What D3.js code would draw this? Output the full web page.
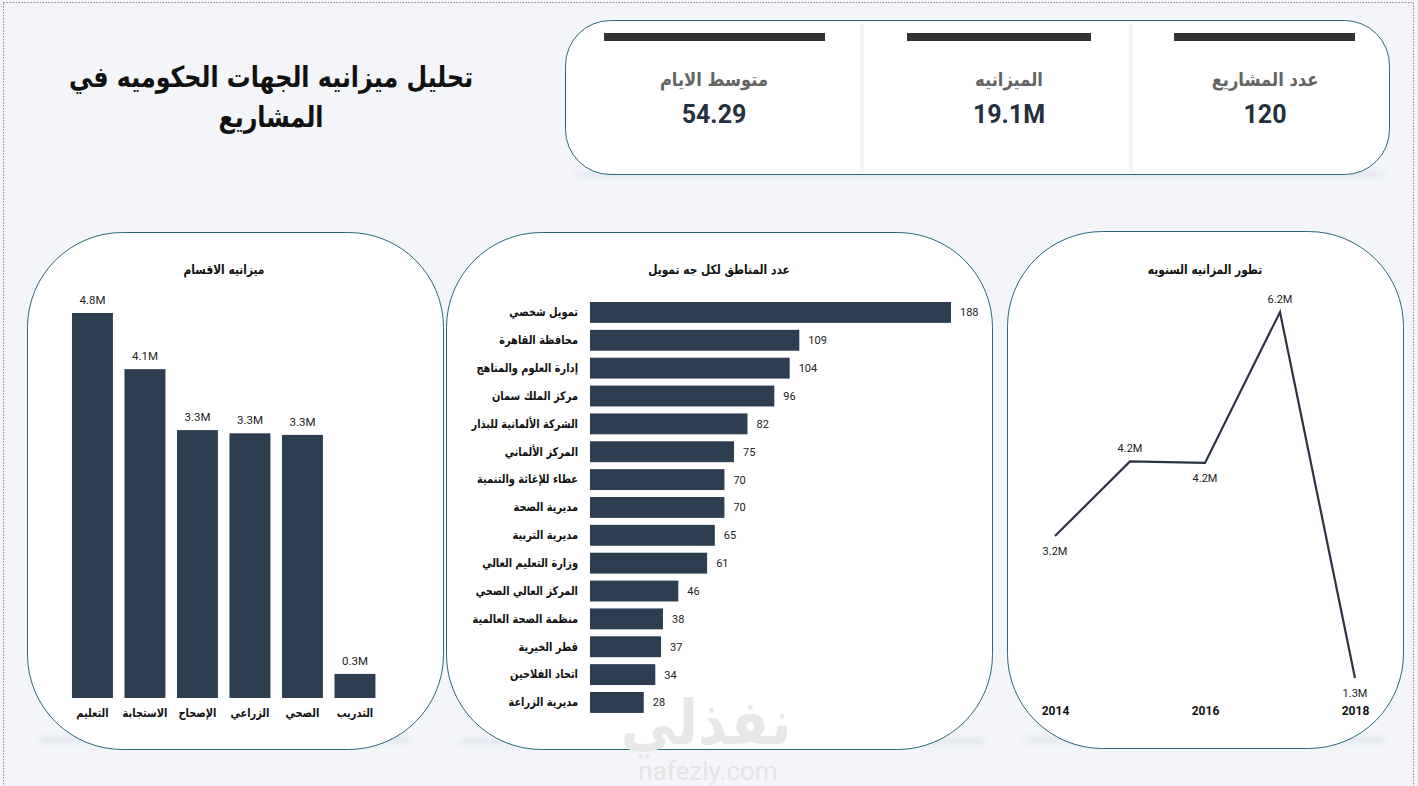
<!DOCTYPE html>
<html><head><meta charset="utf-8">
<script src="https://cdn.jsdelivr.net/npm/d3@7"></script>
<style>
html,body{margin:0;padding:0;background:#f3f5f9;}
svg{display:block;}
.ar{font-family:"Segoe UI","DejaVu Sans","Noto Sans",sans-serif;}
.num{font-family:"Roboto","DejaVu Sans",sans-serif;}
</style></head>
<body>
<svg id="c" width="1418" height="786"></svg>
<script>
// ---- data ----
const kpiLabels = ["متوسط الايام", "الميزانيه", "عدد المشاريع"];
const kpiValues = ["54.29", "19.1M", "120"];

const deptCategories = ["التعليم", "الاستجابة", "الإصحاح", "الزراعي", "الصحي", "التدريب"];
const deptBudget = [4.8, 4.1, 3.34, 3.30, 3.28, 0.30];

const funderCategories = ["تمويل شخصي", "محافظة القاهرة", "إدارة العلوم والمناهج", "مركز الملك سمان", "الشركة الألمانية للبذار", "المركز الألماني", "عطاء للإغاثة والتنمية", "مديرية الصحة", "مديرية التربية", "وزارة التعليم العالي", "المركز العالي الصحي", "منظمة الصحة العالمية", "قطر الخيرية", "اتحاد الفلاحين", "مديرية الزراعة"];
const funderRegions = [188, 109, 104, 96, 82, 75, 70, 70, 65, 61, 46, 38, 37, 34, 28];

const years = [2014, 2015, 2016, 2017, 2018];
const yearBudget = [3.2, 4.2, 4.18, 6.2, 1.3];
const yearTicks = [2014, 2016, 2018];

// ---- drawing ----
const svg = d3.select("#c");
const dark = "#2d3e50";
const frame = "#2b677c";
const SX = 0.82; // horizontal condensing for the Arabic fallback font

const defs = svg.append("defs");
const f = defs.append("filter").attr("id","blur").attr("x","-10%").attr("y","-200%").attr("width","120%").attr("height","500%");
f.append("feGaussianBlur").attr("stdDeviation",3);

function arText(parent, x, y, size, txt, sx){
  return parent.append("text").attr("class","ar")
    .attr("transform",`translate(${x},${y}) scale(${sx||SX},1)`)
    .attr("text-anchor","middle").attr("font-size",size).text(txt);
}

// page dotted border
svg.append("rect").attr("x",3.5).attr("y",2.5).attr("width",1410).attr("height",790)
  .attr("fill","none").attr("stroke","#8a8a8a").attr("stroke-dasharray","1.5,1.5");

// title
arText(svg,271,87,29,"تحليل ميزانيه الجهات الحكوميه في").attr("font-weight","bold").attr("fill","#111");
arText(svg,271,127,29,"المشاريع").attr("font-weight","bold").attr("fill","#111");

// shadows
function shadow(x,y,w){
  svg.append("rect").attr("x",x).attr("y",y).attr("width",w).attr("height",5)
    .attr("fill","#dfe3ea").attr("filter","url(#blur)");
}
shadow(575,172,810); shadow(40,737,370); shadow(460,739,525); shadow(1025,737,360);

// KPI card
svg.append("rect").attr("x",565.5).attr("y",20.5).attr("width",824).attr("height",154)
  .attr("rx",45).attr("fill","#fff").attr("stroke",frame).attr("stroke-width",1);
[862,1131].forEach(x=>{
  svg.append("rect").attr("x",x-2).attr("y",24).attr("width",4).attr("height",148).attr("fill","#f3f5f8");
});
const kpiX = [714, 1009, 1265];
const kpiBar = [[604,825],[907,1091],[1174,1355]];
kpiX.forEach((cx,i)=>{
  svg.append("rect").attr("x",kpiBar[i][0]).attr("y",33).attr("width",kpiBar[i][1]-kpiBar[i][0]).attr("height",8).attr("fill","#333");
  arText(svg,cx,86,19,kpiLabels[i],0.86).attr("font-weight","bold").attr("fill","#646464");
  svg.append("text").attr("class","num").attr("x",cx).attr("y",123).attr("text-anchor","middle")
    .attr("font-size",25).attr("font-weight","bold").attr("fill","#252f3e").text(kpiValues[i]);
});

// panels
function panel(x,y,w,h,t,cx){
  svg.append("rect").attr("x",x+0.5).attr("y",y+0.5).attr("width",w).attr("height",h)
    .attr("rx",95).attr("fill","#fff").attr("stroke",frame).attr("stroke-width",1);
  arText(svg,cx,274,13,t).attr("font-weight","bold").attr("fill","#111");
}
panel(27,232,416,517,"ميزانيه الاقسام",224);
panel(446,232,546,517,"عدد المناطق لكل جه تمويل",719);
panel(1007,231,396,517,"تطور المزانيه السنويه",1205);

// watermark
arText(svg,706,744,62,"نفذلي",0.9).attr("font-weight","bold").attr("fill","#e8e8e8");
svg.append("text").attr("class","num").attr("x",708).attr("y",780).attr("text-anchor","middle")
  .attr("font-size",26).attr("fill","#e4e4e4").text("nafezly.com");

// left: dept budget columns
const xb = d3.scaleBand().domain(deptCategories).range([66.2,381.2]).paddingInner(0.22).paddingOuter(0.11);
const yb = d3.scaleLinear().domain([0,4.8]).range([698,313]);
const g1 = svg.append("g");
g1.selectAll("rect").data(deptBudget).join("rect")
  .attr("x",(d,i)=>xb(deptCategories[i])).attr("width",xb.bandwidth())
  .attr("y",d=>yb(d)).attr("height",d=>yb(0)-yb(d)).attr("fill",dark);
g1.selectAll("text.v").data(deptBudget).join("text").attr("class","v num")
  .attr("x",(d,i)=>xb(deptCategories[i])+xb.bandwidth()/2).attr("y",d=>yb(d)-9)
  .attr("text-anchor","middle").attr("font-size",11.5).attr("fill","#222")
  .text(d=>d.toFixed(1)+"M");
const ax1 = g1.append("g").attr("transform","translate(0,698)").call(d3.axisBottom(xb).tickSize(0).tickPadding(10));
ax1.select(".domain").remove();
ax1.selectAll("text").attr("class","ar").attr("font-size",12).attr("font-weight","bold").attr("fill","#111")
  .attr("transform",`scale(${SX},1)`);

// middle: horizontal bars
const yh = d3.scaleBand().domain(funderCategories).range([298.5,716.4]).paddingInner(0.25).paddingOuter(0.125);
const xh = d3.scaleLinear().domain([0,188]).range([590,951]);
const g2 = svg.append("g");
g2.selectAll("rect").data(funderRegions).join("rect")
  .attr("y",(d,i)=>yh(funderCategories[i])).attr("height",yh.bandwidth())
  .attr("x",xh(0)).attr("width",d=>xh(d)-xh(0)).attr("fill",dark);
g2.selectAll("text.v").data(funderRegions).join("text").attr("class","v num")
  .attr("x",d=>xh(d)+9).attr("y",(d,i)=>yh(funderCategories[i])+yh.bandwidth()/2+4)
  .attr("font-size",11).attr("fill","#222").text(d=>d);
const ax2 = g2.append("g").attr("transform","translate(590,0)").call(d3.axisLeft(yh).tickSize(0).tickPadding(12));
ax2.select(".domain").remove();
ax2.selectAll("text").attr("class","ar").attr("font-size",12).attr("font-weight","bold").attr("fill","#111")
  .attr("x",-12/SX).attr("transform",`scale(${SX},1)`);

// right: line
const xl = d3.scalePoint().domain(years).range([1055,1355]);
const yl = d3.scaleLinear().domain([1.3,6.2]).range([678,312]);
const g3 = svg.append("g");
g3.append("path").datum(years.map((y,i)=>[y,yearBudget[i]]))
  .attr("d",d3.line().x(d=>xl(d[0])).y(d=>yl(d[1])))
  .attr("fill","none").attr("stroke","#2a3442").attr("stroke-width",2.2);
const above = [false,true,false,true,false];
g3.selectAll("text.v").data(yearBudget).join("text").attr("class","v num")
  .attr("x",(d,i)=>xl(years[i])).attr("y",(d,i)=>above[i]? yl(d)-9 : yl(d)+19)
  .attr("text-anchor","middle").attr("font-size",11).attr("fill","#222").text(d=>d.toFixed(1)+"M");
const ax3 = g3.append("g").attr("transform","translate(0,698)")
  .call(d3.axisBottom(xl).tickValues(yearTicks).tickFormat(d3.format("d")).tickSize(0).tickPadding(8));
ax3.select(".domain").remove();
ax3.selectAll("text").attr("class","num").attr("font-size",12).attr("font-weight","bold").attr("fill","#111");
</script>
</body></html>
